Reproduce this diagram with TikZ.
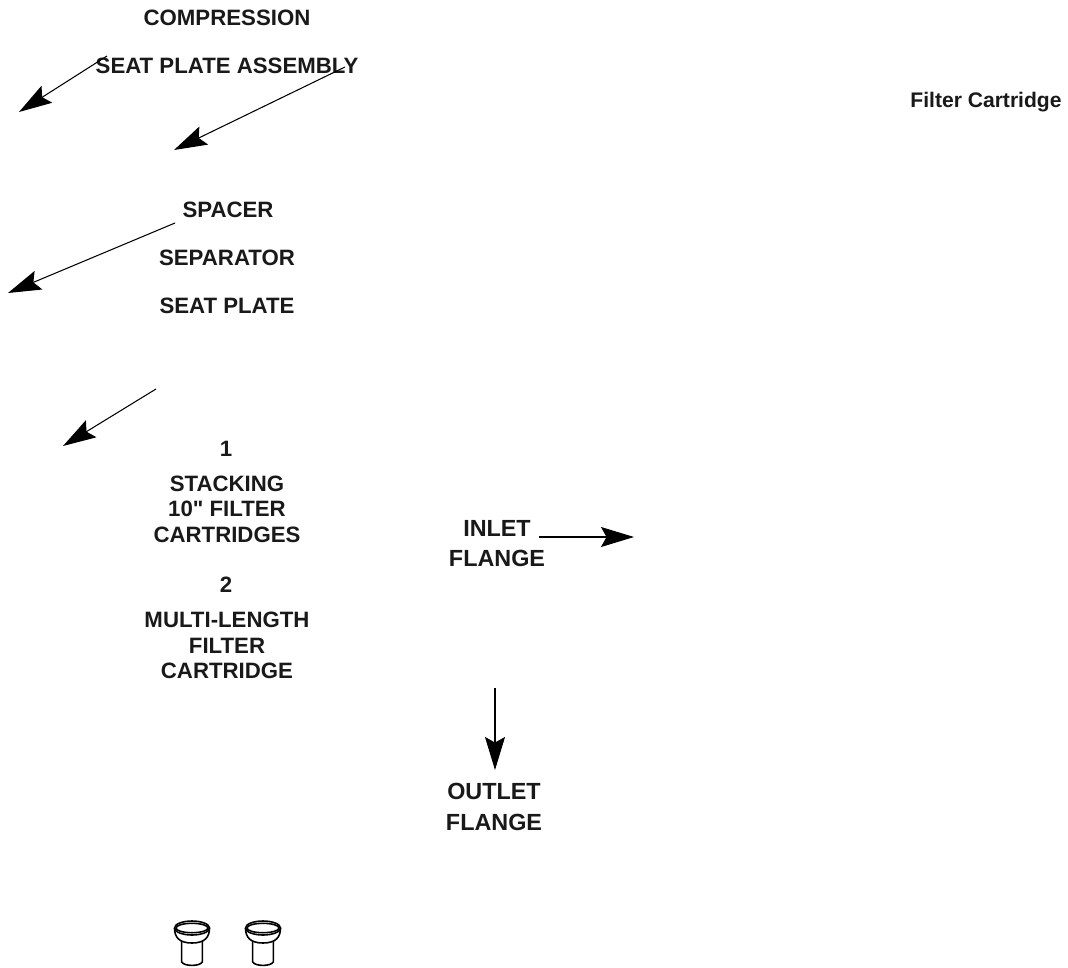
\documentclass[tikz,border=0pt]{standalone}
\usepackage{fontspec}
\setmainfont{Liberation Sans}[Ligatures=TeXOff]
\usetikzlibrary{arrows.meta}
\tikzset{
  partlabel/.style={font=\bfseries\fontsize{12.65}{14.5}\selectfont,align=center,inner sep=0pt,text=black!90},
  flangelabel/.style={font=\bfseries\fontsize{13.3}{15}\selectfont,align=center,inner sep=0pt,text=black!90},
  smalllabel/.style={font=\bfseries\fontsize{12}{14}\selectfont,inner sep=0pt,text=black!90},
  leader/.style={draw=black,line width=0.6pt,-{Stealth[length=0.66cm,width=0.4cm,inset=0.11cm]}},
  fitting/.style={draw=black,line width=0.9pt,fill=white}
}
\begin{document}
\begin{tikzpicture}[x=0.02cm,y=-0.02cm]
\useasboundingbox (0,0) rectangle (1068,967);

% labels of the stack:
\node[partlabel] (compression) at (227,18) {COMPRESSION};
\node[partlabel] (seatassembly) at (227,66) {SEAT PLATE ASSEMBLY};
\node[smalllabel] (cartridge) at (986,102) {Filter Cartridge};
\node[partlabel] (spacer) at (228,210) {SPACER};
\node[partlabel] (separator) at (227,258) {SEPARATOR};
\node[partlabel] (seatplate) at (227,306) {SEAT PLATE};
\node[partlabel] (one) at (226,449) {1};
\node[partlabel] (stacking) at (227,509) {STACKING\\10" FILTER\\CARTRIDGES};
\node[partlabel] (two) at (226,585) {2};
\node[partlabel] (multilength) at (227,645.5) {MULTI-LENGTH\\FILTER\\CARTRIDGE};

% labels of the flanges:
\node[flangelabel] (inlet) at (497,528.5) {INLET};
\node[flangelabel] (inletflange) at (497,558) {FLANGE};
\node[flangelabel] (outlet) at (494,791) {OUTLET};
\node[flangelabel] (outletflange) at (494,822) {FLANGE};

% ends of the leaders:
\coordinate (assemblyA) at (107,56);
\coordinate (assemblyAtip) at (19,112);
\coordinate (assemblyB) at (345,67);
\coordinate (assemblyBtip) at (174,150);
\coordinate (spacerA) at (175,223);
\coordinate (spacerAtip) at (8,293);
\coordinate (plateA) at (156,389);
\coordinate (plateAtip) at (63,446);
\coordinate (inletA) at (539,537);
\coordinate (inletAtip) at (634,537);
\coordinate (outletA) at (495,688);
\coordinate (outletAtip) at (495,770);

% leaders:
\draw[leader] (assemblyA) -- (assemblyAtip);
\draw[leader] (assemblyB) -- (assemblyBtip);
\draw[leader] (spacerA) -- (spacerAtip);
\draw[leader] (plateA) -- (plateAtip);
\draw[leader] (inletA) -- (inletAtip);
\draw[leader] (outletA) -- (outletAtip);

% left fitting:
\draw[fitting] (181.7,938) -- (181.7,962) .. controls (184,966.5) and (200,966.5) .. (202.3,962) -- (202.3,938);
\draw[fitting] (174.5,928) .. controls (174.5,937) and (179,943) .. (192,943) .. controls (205,943) and (209.5,937) .. (209.5,928);
\draw[fitting] (192,928) ellipse (17.5 and 7);
\draw[fitting] (192,928) ellipse (16 and 4.7);

% right fitting:
\draw[fitting] (252.7,938) -- (252.7,962) .. controls (255,966.5) and (271,966.5) .. (273.3,962) -- (273.3,938);
\draw[fitting] (245.5,928) .. controls (245.5,937) and (250,943) .. (263,943) .. controls (276,943) and (280.5,937) .. (280.5,928);
\draw[fitting] (263,928) ellipse (17.5 and 7);
\draw[fitting] (263,928) ellipse (16 and 4.7);
\end{tikzpicture}
\end{document}
